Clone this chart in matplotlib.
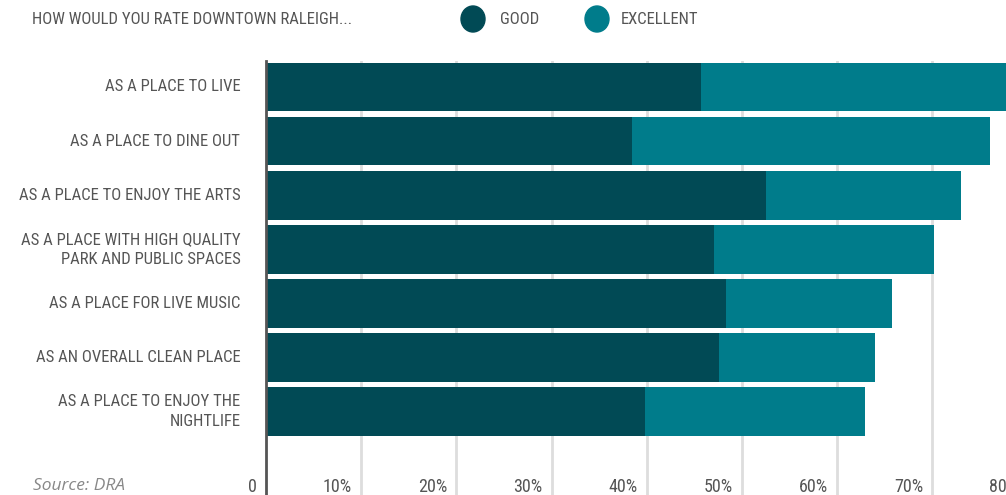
# stacked horizontal bars: how would you rate downtown raleigh

import matplotlib.pyplot as plt
from matplotlib.patches import Ellipse
from matplotlib.transforms import blended_transform_factory

categories = ['AS A PLACE TO LIVE', 'AS A PLACE TO DINE OUT', 'AS A PLACE TO ENJOY THE ARTS',
              'AS A PLACE WITH HIGH QUALITY\nPARK AND PUBLIC SPACES', 'AS A PLACE FOR LIVE MUSIC',
              'AS AN OVERALL CLEAN PLACE', 'AS A PLACE TO ENJOY THE\nNIGHTLIFE']
good = [45.7, 38.4, 52.5, 47.1, 48.3, 47.6, 39.8]
excellent = [33.0, 37.6, 20.5, 23.1, 17.5, 16.4, 23.1]
ticks = [0, 10, 20, 30, 40, 50, 60, 70, 80]
tick_labels = ['0', '10%', '20%', '30%', '40%', '50%', '60%', '70%', '80%']

good_color = '#014a55'
excel_color = '#007c8b'
text_color = '#555555'
narrow = ['Roboto Condensed', 'DejaVu Sans']

fig = plt.figure(figsize=(10.06, 4.95), dpi=100)
ax = fig.add_axes([266 / 1006, 0, 1 - 266 / 1006, 1 - 61 / 495])

y = list(range(len(categories)))
ax.barh(y, good, height=0.9, color=good_color, zorder=3)
ax.barh(y, excellent, left=good, height=0.9, color=excel_color, zorder=3)

ax.set_xlim(0, (1006 - 266) / 9.52)
ax.set_ylim(7.54, -0.48)

# gridlines and axis line
for t in ticks[1:]:
    ax.axvline(t, color='#dddddd', lw=2, zorder=1)
ax.axvline(0, color='#555555', lw=2, zorder=4, clip_on=False)

for s in ax.spines.values():
    s.set_visible(False)
ax.set_xticks([])
ax.set_yticks([])

# tick labels sit just left of the gridlines, at the bottom
trans = blended_transform_factory(ax.transData, fig.transFigure)
for t, lab in zip(ticks, tick_labels):
    ax.text(t - 1.0 if t else -1.0, 3 / 495, lab, transform=trans, ha='right', va='baseline',
            fontsize=13, color=text_color, family=narrow, clip_on=False)

# category labels
for yi, cat in zip(y, categories):
    ax.text(-2.7, yi, cat, ha='right', va='center', fontsize=12, color=text_color,
            family=narrow, linespacing=1.4, clip_on=False)

# header and legend
fig.text(32 / 1006, 1 - 19 / 495, 'HOW WOULD YOU RATE DOWNTOWN RALEIGH...', ha='left', va='center',
         fontsize=12, color=text_color, family=narrow)
for cx, col, lab, lx in [(473, good_color, 'GOOD', 500), (597, excel_color, 'EXCELLENT', 621)]:
    fig.patches.append(Ellipse((cx / 1006, 1 - 19 / 495), 24 / 1006, 26 / 495,
                               transform=fig.transFigure, color=col))
    fig.text(lx / 1006, 1 - 19 / 495, lab, ha='left', va='center', fontsize=12,
             color=text_color, family=narrow)

fig.text(33 / 1006, 5 / 495, 'Source: DRA', ha='left', va='baseline', fontsize=12.5,
         color='#888888', style='italic', family=['Open Sans', 'DejaVu Sans'])

fig.savefig('out.png', dpi=100)
